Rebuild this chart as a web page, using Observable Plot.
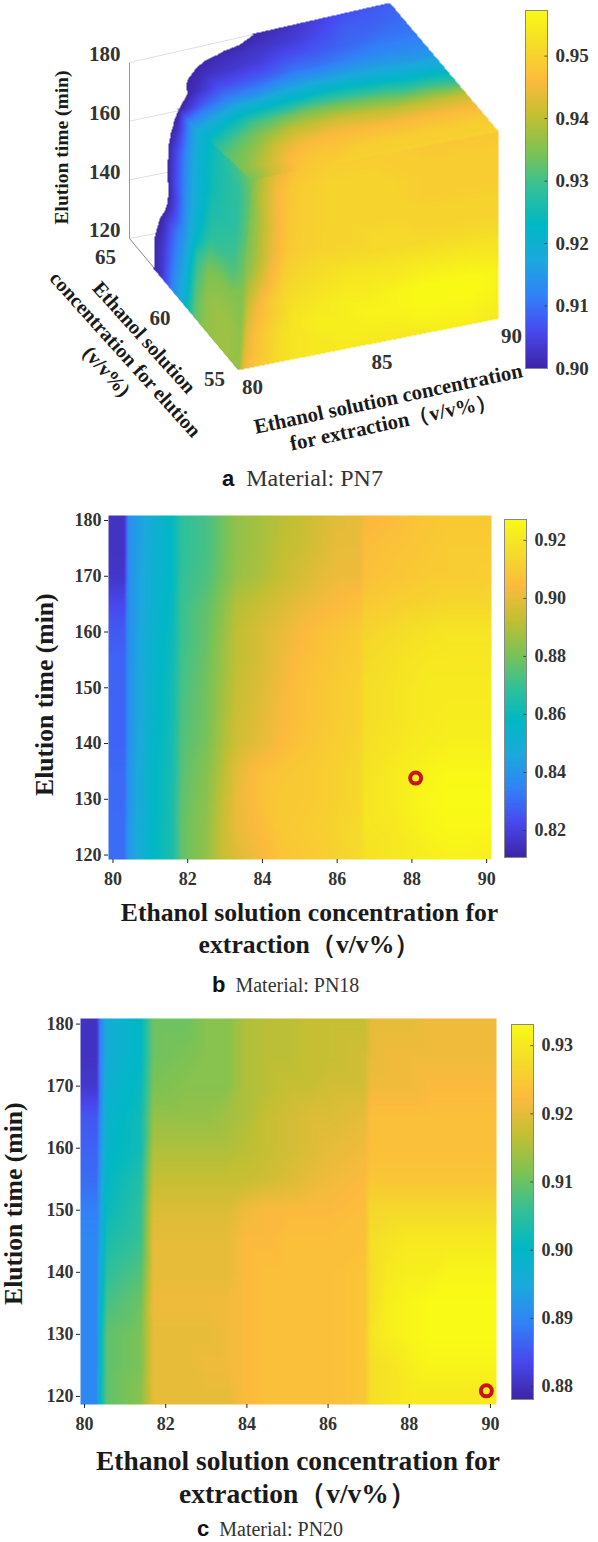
<!DOCTYPE html>
<html><head><meta charset="utf-8">
<script src="https://cdn.jsdelivr.net/npm/d3@7"></script>
<script src="https://cdn.jsdelivr.net/npm/@observablehq/plot@0.6"></script>
<style>
html,body{margin:0;padding:0;background:#fff}
#page{position:relative;width:598px;height:1542px;overflow:hidden;font-family:"Liberation Serif",serif;color:#222}
#page>svg,#page>div{position:absolute}
.cap{font-size:20px;white-space:pre;color:#333}
.cap b{font-family:"Liberation Sans",sans-serif;font-size:22px;color:#111}
.ax{font-weight:bold;text-align:center;white-space:pre;color:#1a1a1a}
</style></head><body><div id="page"></div>
<script>
const parula=["#3e26a8","#4849ef","#3182f7","#1ba9dc","#00b8c4","#33c098","#7dc254","#c2bf33","#fcba3d","#f5dc29","#f9fb15"];
const times=[180,175,170,165,160,155,150,145,140,135,130,125,120];
const extractionB=[80.3,80.42,81,81.6,81.85,82.5,82.9,83.3,84,84.5,85,85.5,86,86.6,86.75,87.5,88,88.5,89,89.5,90];
const extractionC=[80.3,80.38,80.55,81.38,81.7,82.5,83,83.5,83.95,84.5,85,85.5,86,86.9,87.05,87.5,88,88.5,89,89.5,90];

const barA=[.90,.9573], ticksA=[.90,.91,.92,.93,.94,.95];
const barB=[.8107,.9272], ticksB=[.82,.84,.86,.88,.90,.92];
const barC=[.8781,.9331], ticksC=[.88,.89,.90,.91,.92,.93];

// Panel a: three faces of the cube
const frontX=[80,80.2,80.6,81,81.6,82,83,84,85,86,87,88,89,90];
const frontValues=[
[.934,.937,.941,.944,.947,.948,.949,.949,.949,.949,.948,.948,.948,.948],
[.934,.937,.941,.945,.948,.949,.95,.95,.95,.949,.949,.949,.949,.949],
[.934,.936,.941,.945,.948,.949,.95,.95,.95,.95,.949,.949,.949,.949],
[.934,.936,.94,.944,.948,.949,.95,.95,.95,.95,.949,.949,.949,.949],
[.934,.936,.94,.944,.948,.949,.95,.95,.95,.95,.95,.95,.95,.95],
[.935,.936,.94,.944,.948,.949,.95,.95,.951,.951,.95,.95,.95,.95],
[.936,.937,.941,.945,.949,.95,.951,.951,.951,.951,.951,.951,.951,.951],
[.936,.939,.943,.946,.95,.951,.952,.953,.953,.953,.953,.953,.953,.953],
[.936,.941,.945,.948,.951,.952,.953,.954,.954,.954,.955,.955,.955,.954],
[.936,.942,.946,.948,.951,.953,.954,.955,.955,.956,.957,.957,.957,.956],
[.936,.943,.947,.949,.952,.953,.955,.955,.956,.956,.957,.957,.957,.956],
[.936,.943,.947,.949,.952,.953,.954,.955,.955,.955,.956,.956,.956,.955],
[.936,.944,.948,.949,.952,.953,.954,.954,.954,.954,.954,.955,.955,.954]];
const elutionConc=[55,56,57,58,59,60,61,62,63,64,65];
const leftValues=[
[.934,.931,.928,.925,.921,.914,.90,.895,.89,.885,.88],
[.933,.929,.927,.925,.921,.914,.902,.896,.89,.885,.88],
[.933,.928,.927,.925,.921,.915,.904,.897,.89,.885,.88],
[.933,.928,.927,.925,.921,.915,.906,.898,.89,.885,.88],
[.933,.928,.927,.926,.921,.915,.906,.898,.89,.885,.88],
[.934,.929,.928,.927,.921,.915,.906,.898,.89,.885,.88],
[.934,.93,.929,.928,.922,.915,.905,.897,.89,.885,.88],
[.935,.932,.932,.931,.924,.915,.906,.898,.89,.885,.88],
[.935,.935,.935,.934,.928,.916,.909,.901,.895,.888,.88],
[.935,.936,.936,.935,.93,.917,.91,.902,.898,.89,.88],
[.936,.937,.937,.936,.931,.918,.911,.903,.899,.89,.88],
[.936,.937,.937,.936,.932,.919,.912,.903,.899,.89,.88],
[.936,.937,.937,.936,.932,.92,.912,.903,.899,.89,.88]];
const topX=[80,81,82,83,84,85,86,87,88,89,90];
const topValues=[
[.934,.942,.948,.949,.95,.95,.95,.95,.95,.95,.95],
[.934,.94,.946,.948,.948,.949,.949,.949,.949,.949,.949],
[.932,.936,.942,.945,.946,.946,.946,.946,.946,.946,.946],
[.927,.932,.936,.94,.941,.942,.941,.94,.94,.94,.94],
[.92,.925,.93,.932,.934,.934,.933,.932,.93,.93,.928],
[.912,.917,.921,.922,.923,.924,.924,.923,.922,.921,.92],
[.90,.908,.912,.913,.915,.916,.916,.916,.916,.915,.915],
[.895,.901,.906,.907,.908,.91,.91,.911,.912,.912,.912],
[.89,.899,.902,.903,.904,.906,.907,.908,.909,.91,.91],
[.88,.893,.899,.901,.902,.903,.904,.906,.908,.908,.909],
[.87,.885,.89,.895,.898,.9005,.902,.904,.906,.907,.908]];

// Panel b
const valuesB=[
[.815,.838,.848,.858,.868,.872,.878,.884,.888,.891,.893,.896,.899,.900,.903,.905,.907,.908,.909,.909,.909],
[.815,.838,.849,.858,.868,.872,.878,.884,.888,.892,.894,.897,.900,.900,.905,.907,.908,.909,.910,.910,.910],
[.816,.838,.85,.858,.869,.873,.879,.885,.889,.893,.896,.899,.901,.901,.906,.908,.909,.91,.91,.91,.911],
[.822,.838,.85,.859,.870,.876,.882,.89,.894,.897,.900,.902,.904,.906,.909,.911,.912,.913,.914,.914,.914],
[.826,.838,.852,.86,.87,.877,.884,.892,.897,.9,.903,.906,.908,.91,.913,.915,.917,.918,.919,.919,.919],
[.828,.838,.852,.861,.871,.878,.885,.892,.897,.901,.905,.907,.909,.911,.915,.917,.919,.92,.92,.92,.92],
[.828,.838,.853,.862,.872,.879,.886,.893,.898,.902,.906,.908,.91,.912,.916,.918,.92,.921,.921,.921,.921],
[.828,.838,.853,.862,.873,.879,.887,.894,.899,.903,.906,.908,.91,.912,.916,.918,.92,.921,.922,.922,.922],
[.828,.838,.854,.863,.874,.88,.888,.895,.9,.904,.907,.909,.911,.913,.917,.919,.921,.922,.923,.923,.923],
[.829,.839,.855,.863,.875,.882,.89,.899,.906,.908,.909,.91,.912,.914,.918,.921,.923,.925,.926,.926,.926],
[.829,.839,.855,.864,.876,.883,.892,.90,.907,.909,.909,.91,.912,.914,.919,.921,.924,.926,.927,.927,.927],
[.83,.84,.856,.864,.877,.884,.893,.9,.905,.909,.91,.911,.913,.915,.919,.92,.923,.925,.926,.926,.926],
[.83,.84,.856,.864,.877,.884,.893,.898,.903,.908,.909,.91,.912,.915,.918,.92,.921,.923,.924,.924,.923]];

// Panel c
const valuesC=[
[.880,.889,.896,.900,.910,.910,.912,.912,.915,.916,.916,.917,.917,.917,.920,.920,.920,.921,.921,.921,.921],
[.880,.889,.896,.900,.910,.911,.912,.912,.915,.916,.916,.917,.917,.918,.920,.921,.921,.921,.921,.921,.921],
[.881,.889,.897,.901,.911,.912,.912,.912,.915,.916,.917,.917,.918,.918,.921,.921,.921,.922,.922,.922,.922],
[.885,.890,.898,.902,.913,.913,.913,.914,.915,.917,.918,.919,.919,.920,.923,.923,.923,.923,.923,.923,.923],
[.886,.891,.899,.902,.915,.915,.915,.915,.916,.917,.918,.919,.920,.921,.923,.923,.923,.923,.923,.923,.923],
[.887,.892,.900,.904,.917,.917,.917,.917,.917,.918,.919,.920,.921,.922,.924,.924,.924,.924,.924,.924,.924],
[.889,.893,.901,.905,.919,.919,.919,.919,.921,.922,.922,.922,.922,.923,.927,.927,.927,.927,.927,.927,.927],
[.890,.894,.903,.906,.920,.920,.920,.920,.922,.922,.923,.923,.923,.923,.928,.929,.930,.930,.930,.930,.930],
[.890,.895,.905,.908,.920,.920,.920,.920,.922,.923,.923,.923,.923,.924,.928,.930,.931,.931,.932,.932,.932],
[.890,.897,.907,.910,.921,.921,.921,.921,.922,.923,.923,.923,.923,.924,.928,.931,.932,.933,.933,.933,.933],
[.890,.899,.909,.911,.920,.920,.920,.921,.922,.923,.923,.923,.923,.924,.929,.931,.932,.933,.933,.933,.933],
[.890,.899,.909,.911,.920,.920,.921,.921,.922,.923,.923,.923,.923,.924,.928,.929,.931,.932,.932,.932,.932],
[.890,.900,.909,.912,.920,.920,.920,.920,.922,.923,.923,.923,.923,.924,.928,.929,.930,.930,.930,.930,.930]];

const page=document.getElementById("page");
const serif="'Liberation Serif',serif";
const colorOf=d=>({type:"linear",domain:d,interpolate:d3.piecewise(d3.interpolateRgb,parula),clamp:true});
function place(el,left,top){el.style.left=left+"px";el.style.top=top+"px";page.appendChild(el);return el;}
function label(cls,html,left,top,width,size){const d=document.createElement("div");d.className=cls;d.innerHTML=html;d.style.left=left+"px";d.style.top=top+"px";if(width)d.style.width=width+"px";if(size)d.style.fontSize=size+"px";page.appendChild(d);return d;}
function vlabel(text,left,bottom,size){const e=label("ax",text,left,bottom,0,size);e.style.lineHeight="1.1";e.style.transform="rotate(-90deg)";e.style.transformOrigin="0 0";e.style.textAlign="left";}

function colorbar(dom,ticks,left,top,w,h,size){
  const steps=d3.range(200).map(i=>dom[0]+(dom[1]-dom[0])*i/200);
  const st=(dom[1]-dom[0])/200;
  const p=Plot.plot({width:w+60,height:h+28,marginLeft:0,marginRight:60,marginTop:14,marginBottom:14,
    x:{domain:[0,1],axis:null},y:{domain:dom,axis:null},color:colorOf(dom),style:{background:"transparent"},
    marks:[
      Plot.rect(steps,{x1:0,x2:1,y1:d=>d,y2:d=>Math.min(d+st*1.5,dom[1]),fill:d=>d}),
      Plot.ruleY(ticks,{x1:.88,x2:1,y:d=>d,stroke:"#333",strokeWidth:.8}),
      Plot.frame({stroke:"#888",strokeWidth:1}),
      Plot.text(ticks,{x:1,y:d=>d,text:d=>d.toFixed(2),textAnchor:"start",dx:8,fontFamily:serif,fontWeight:"bold",fontSize:size,fill:"#333"})
    ]});
  place(p,left,top-14);
}

function heat(values,cols,dom,left,top,w,h,xd,yd,marker){
  // the outer edge of the picture repeats the nearest row or column read from it
  const xs=[xd[0],...cols,xd[1]], ts=[yd[1],...times,yd[0]];
  const pts=ts.flatMap((t,i)=>xs.map((x,j)=>({x,t,v:values[Math.min(12,Math.max(0,i-1))][Math.min(20,Math.max(0,j-1))]})));
  const p=Plot.plot({width:w+left+10,height:h+50,marginLeft:left,marginRight:10,marginTop:10,marginBottom:40,
    x:{domain:xd},y:{domain:yd},color:colorOf(dom),style:{background:"transparent"},
    marks:[
      Plot.raster(pts,{x:"x",y:"t",fill:"v",interpolate:"barycentric"}),
      Plot.axisX({ticks:[80,82,84,86,88,90],tickSize:4,tickPadding:9,label:null,tickFormat:d=>d,fontFamily:serif,fontWeight:"bold",fontSize:18,fill:"#333"}),
      Plot.axisY({ticks:[120,130,140,150,160,170,180],tickSize:4,tickPadding:3,label:null,tickFormat:d=>d,fontFamily:serif,fontWeight:"bold",fontSize:18,fill:"#333"}),
      Plot.dot([marker],{x:"x",y:"t",r:5.5,stroke:"#c8141e",strokeWidth:4,fill:"none"})
    ]});
  place(p,0,top-10);
}

// ---- panel a: projected cube ----
const corners={ "000":[238,369],"100":[497,318],"001":[252,180],"101":[498,132],"010":[129,238],"110":[390,190],"011":[129,62],"111":[389,3] };
function proj(x,c,t){
  const s=(x-80)/10,u=(c-55)/10,w=(t-120)/60;const o=[0,0];
  for(const a of [0,1])for(const b of [0,1])for(const e of [0,1]){
    const k=(a?s:1-s)*(b?u:1-u)*(e?w:1-w),q=corners[""+a+b+e];o[0]+=k*q[0];o[1]+=k*q[1];}
  return o;
}
const threshold=barA[0];
function faceInterp(index,w,h,X,Y,V){
  const out=Plot.interpolatorBarycentric()(index,w,h,X,Y,V);
  const hull=d3.polygonHull(Array.from(index,i=>[X[i],Y[i]]));
  const inHull=(x,y)=>d3.polygonContains(hull,[x,y]);
  const res=new Float64Array(w*h).fill(NaN);
  for(let y=0,k=0;y<h;y++)for(let x=0;x<w;x++,k++){
    if(inHull(x+.5,y+.5)&&out[k]>=threshold)res[k]=out[k];
  }
  // a pixel that only touches the face takes a neighbour's value, so faces leave no seam
  const grown=res.slice();
  for(let y=1;y<h-1;y++)for(let x=1;x<w-1;x++){
    const k=y*w+x;
    if(inHull(x+.5,y+.5))continue;
    if(!(inHull(x,y)||inHull(x+1,y)||inHull(x,y+1)||inHull(x+1,y+1)))continue;
    for(const n of [k-1,k+1,k-w,k+w,k-w-1,k-w+1,k+w-1,k+w+1])if(!isNaN(res[n])){grown[k]=res[n];break;}
  }
  return grown;
}
const facePts=[
  elutionConc.flatMap((c,j)=>times.map((t,i)=>({p:proj(80,c,t),v:leftValues[i][j]}))),
  elutionConc.flatMap((c,i)=>topX.map((x,j)=>({p:proj(x,c,180),v:topValues[i][j]}))),
  times.flatMap((t,i)=>frontX.map((x,j)=>({p:proj(x,55,t),v:frontValues[i][j]})))
];
const tTicks=[120,140,160,180],cTicks=[55,60,65],xTicks=[80,85,90];
const cTickDy={55:10,60:14,65:19};
const aPlot=Plot.plot({width:598,height:500,margin:0,
  x:{domain:[0,598],range:[0,598],axis:null},y:{domain:[0,500],range:[0,500],axis:null},color:colorOf(barA),style:{background:"transparent"},
  marks:[
    Plot.link(tTicks,{x1:()=>proj(80,65,120)[0],x2:d=>proj(90,65,d)[0],y1:d=>proj(80,65,d)[1],y2:d=>proj(90,65,d)[1],stroke:"#d8d8d8",strokeWidth:.8}),
    Plot.link([0],{x1:()=>proj(80,65,120)[0],y1:()=>proj(80,65,120)[1],x2:()=>proj(80,65,180)[0],y2:()=>proj(80,65,180)[1],stroke:"#999",strokeWidth:1}),
    Plot.link([0],{x1:()=>proj(80,65,120)[0],y1:()=>proj(80,65,120)[1],x2:()=>proj(80,55,120)[0],y2:()=>proj(80,55,120)[1],stroke:"#888",strokeWidth:1}),
    ...facePts.map(pts=>Plot.raster(pts,{x:d=>d.p[0],y:d=>d.p[1],fill:"v",interpolate:faceInterp,pixelSize:1})),
    Plot.text(tTicks,{x:d=>proj(80,65,d)[0]-9,y:d=>proj(80,65,d)[1]-8,text:d=>""+d,textAnchor:"end",fontFamily:serif,fontWeight:"bold",fontSize:21,fill:"#333"}),
    Plot.text(cTicks,{x:d=>proj(80,d,120)[0]-24,y:d=>proj(80,d,120)[1]+cTickDy[d],text:d=>""+d,fontFamily:serif,fontWeight:"bold",fontSize:21,fill:"#333"}),
    Plot.text(xTicks,{x:d=>proj(d,55,120)[0]+14,y:d=>proj(d,55,120)[1]+18,text:d=>""+d,fontFamily:serif,fontWeight:"bold",fontSize:21,fill:"#333"}),
    Plot.text(["Elution time (min)"],{x:61,y:147,text:d=>d,rotate:-90,fontFamily:serif,fontWeight:"bold",fontSize:19.5,fill:"#1a1a1a"}),
    Plot.text(["Ethanol solution\nconcentration for elution\n(v/v%)"],{x:126,y:353,text:d=>d,rotate:48,lineHeight:1.25,fontFamily:serif,fontWeight:"bold",fontSize:20.3,fill:"#1a1a1a"}),
    Plot.text(["Ethanol solution concentration\nfor extraction（v/v%）"],{x:390,y:409,text:d=>d,rotate:-12,lineHeight:1.15,fontFamily:serif,fontWeight:"bold",fontSize:20.8,fill:"#1a1a1a"})
  ]});
place(aPlot,0,0);
colorbar(barA,ticksA,525,10,22,358,19);

// ---- panel b ----
heat(valuesB,extractionB,barB,108,515,383,344,[79.88,90.13],[119.2,180.9],{x:88.1,t:133.8});
colorbar(barB,ticksB,504,519,22,338,18);
label("ax","Ethanol solution concentration for\nextraction（v/v%）",70,897,479,25.7).style.lineHeight="32px";
vlabel("Elution time (min)",31,796,25.7);
label("cap","<b>b</b>  Material: PN18",212,972);

// ---- panel c ----
heat(valuesC,extractionC,barC,80,1018,416,386,[79.9,90.15],[118.7,180.9],{x:89.9,t:120.9});
colorbar(barC,ticksC,511,1024,22,375,18);
label("ax","Ethanol solution concentration for\nextraction（v/v%）",48,1444,500,27.5).style.lineHeight="33px";
vlabel("Elution time (min)",0,1305,25.7);
label("cap","<b>c</b>  Material: PN20",197,1516);

label("cap","<b>a</b>  Material: PN7",222,465,0,24);
</script></body></html>
